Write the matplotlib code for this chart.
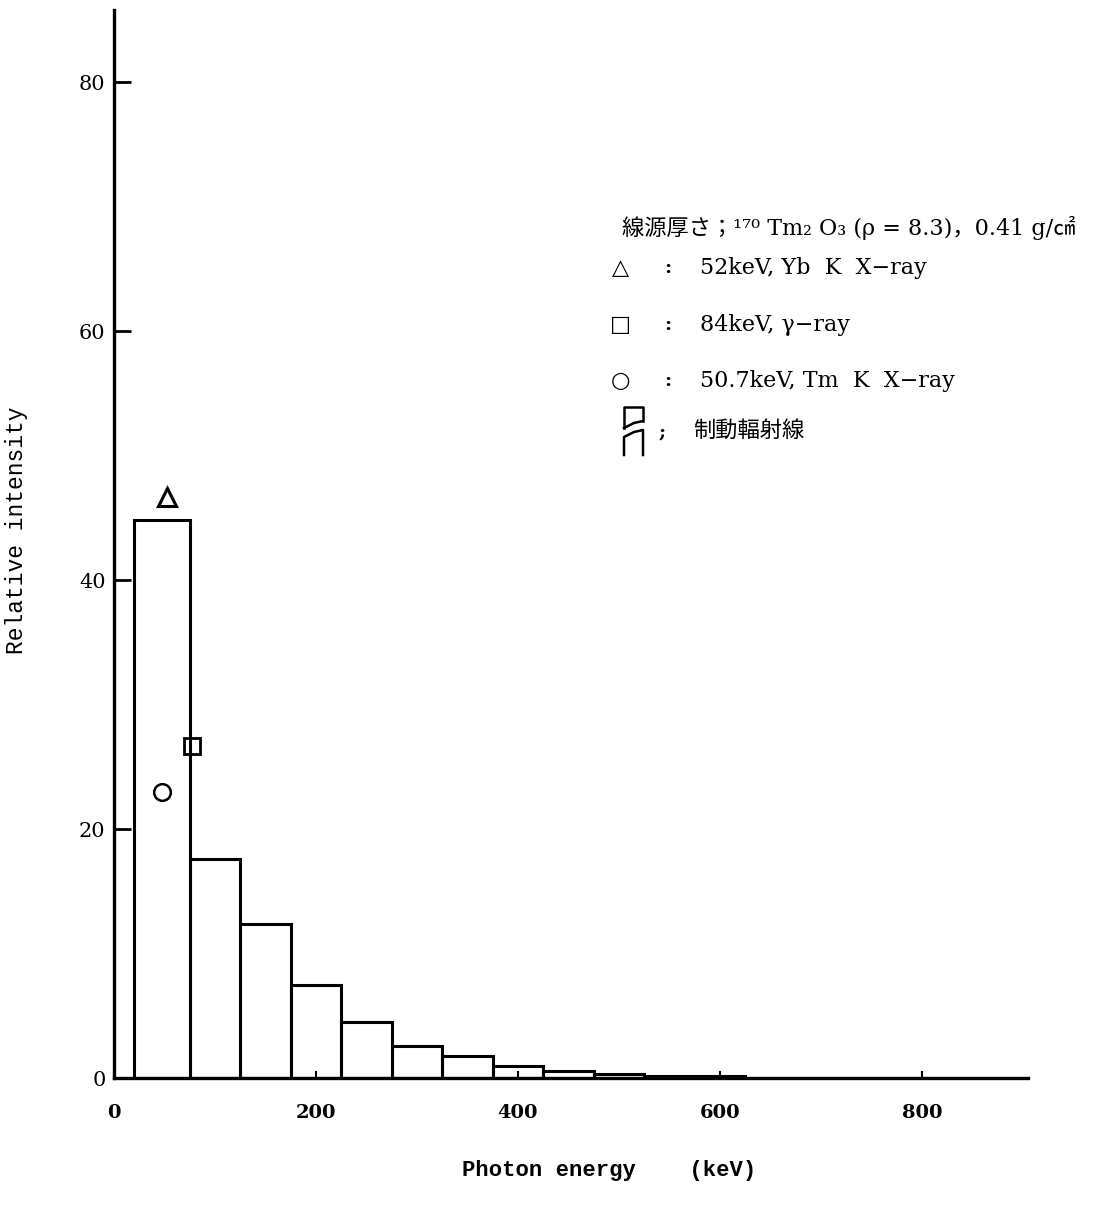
import numpy as np
import matplotlib
matplotlib.use('Agg')
import matplotlib.pyplot as plt
from matplotlib.lines import Line2D

# 制動輻射線スペクトル (keV 区間と相対強度)
bin_edges = [20, 75, 125, 175, 225, 275, 325, 375, 425, 475, 525, 625]
brems_intensity = [44.8, 17.6, 12.4, 7.5, 4.5, 2.6, 1.8, 1.0, 0.6, 0.35, 0.15]

# 特性X線・γ線 (位置は図から読み取り)
tri_x, tri_y = [52], [46.7]      # 52keV Yb K X-ray
sq_x, sq_y = [77], [26.7]        # 84keV γ-ray
circ_x, circ_y = [48], [23.0]    # 50.7keV Tm K X-ray

x_ticks = [0, 200, 400, 600, 800]
y_ticks = [0, 20, 40, 60, 80]

legend_lines = [
    ('△', '52keV, Yb  K  X−ray'),
    ('□', '84keV, γ−ray'),
    ('○', '50.7keV, Tm  K  X−ray'),
]

SERIF = ['DejaVu Serif', 'DejaVu Sans', 'Noto Sans CJK JP']
MONO = ['Liberation Mono', 'DejaVu Sans Mono']

W, H = 1110, 1206
fig = plt.figure(figsize=(W / 100, H / 100), dpi=100)
ax = fig.add_axes([114 / W, 128 / H, (1028 - 114) / W, (1196 - 128) / H])

# ヒストグラム
widths = np.diff(bin_edges)
ax.bar(bin_edges[:-1], brems_intensity, width=widths, align='edge',
       facecolor='none', edgecolor='black', linewidth=2.2)

ax.plot(tri_x, tri_y, marker='^', ms=13, mfc='none', mec='black', mew=2.2, ls='none')
ax.plot(sq_x, sq_y, marker='s', ms=11, mfc='none', mec='black', mew=2.0, ls='none')
ax.plot(circ_x, circ_y, marker='o', ms=12, mfc='none', mec='black', mew=1.8, ls='none')

ax.set_xlim(0, 905)
ax.set_ylim(0, 85.8)
for s in ['top', 'right']:
    ax.spines[s].set_visible(False)
for s in ['left', 'bottom']:
    ax.spines[s].set_linewidth(2.4)

ax.set_xticks(x_ticks)
ax.set_yticks(y_ticks)
ax.tick_params(axis='y', direction='in', length=12, width=2, pad=6)
ax.tick_params(axis='x', direction='in', length=5, width=1.5, pad=19)
for lab in ax.get_xticklabels():
    lab.set_family(SERIF)
    lab.set_fontsize(14)
    lab.set_fontweight('bold')
for lab in ax.get_yticklabels():
    lab.set_family(SERIF)
    lab.set_fontsize(15)

ax.set_ylabel('Relative intensity', family=MONO, fontsize=16.5)
ax.yaxis.set_label_coords(-0.094, 0.513)
ax.set_xlabel('Photon energy    (keV)', family=MONO, fontsize=16, fontweight='bold')
ax.xaxis.set_label_coords(0.542, -0.077)

# 凡例 (図の座標で配置)
def fy(py):
    return 1 - py / H

fig.text(622 / W, fy(228), '線源厚さ；¹⁷⁰ Tm₂ O₃ (ρ = 8.3)，0.41 g/㎠',
         family=SERIF, fontsize=16, va='center', ha='left')
for (sym, txt), py in zip(legend_lines, [268, 325, 381]):
    fig.text(620 / W, fy(py), sym, family=SERIF, fontsize=16, va='center', ha='center',
             fontweight='bold')
    fig.text(668 / W, fy(py), ':', family=SERIF, fontsize=14, va='center', ha='center',
             fontweight='bold')
    fig.text(700 / W, fy(py), txt, family=SERIF, fontsize=16, va='center', ha='left')

# 制動輻射線の記号
icon_upper_x = [624, 624, 643, 643]
icon_upper_y = [428, 407, 407, 421]
icon_lower_x = [624, 624, 634, 643, 643]
icon_lower_y = [455, 437, 432, 430, 455]
fig.add_artist(Line2D(np.array(icon_upper_x) / W, [fy(v) for v in icon_upper_y],
                      color='black', lw=1.8, transform=fig.transFigure))
fig.add_artist(Line2D(np.array([624, 634, 643]) / W, [fy(v) for v in [428, 423, 421]],
                      color='black', lw=1.8, transform=fig.transFigure))
fig.add_artist(Line2D(np.array(icon_lower_x) / W, [fy(v) for v in icon_lower_y],
                      color='black', lw=1.8, transform=fig.transFigure))
fig.text(662 / W, fy(432), ';', family=SERIF, fontsize=14, va='center', ha='center',
         fontweight='bold')
fig.text(693 / W, fy(430), '制動輻射線', family=['Noto Sans CJK JP'], fontsize=16,
         va='center', ha='left')

fig.savefig('out.png', dpi=100, facecolor='white')
